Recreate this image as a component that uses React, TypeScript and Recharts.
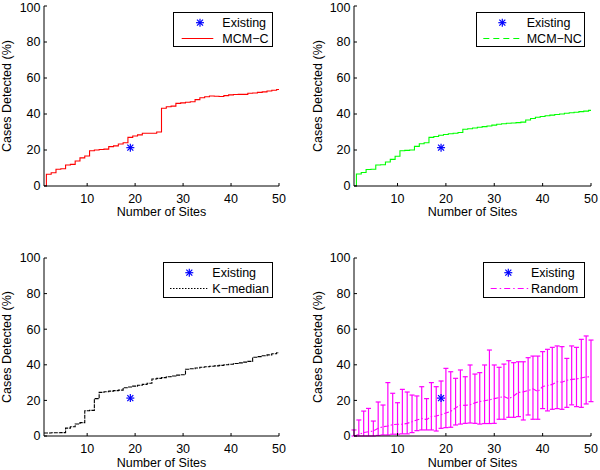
import React from 'react';
import { ComposedChart, Line, Scatter, XAxis, YAxis, ErrorBar, Legend } from 'recharts';

const sites = [1, 2, 3, 4, 5, 6, 7, 8, 9, 10, 11, 12, 13, 14, 15, 16, 17, 18, 19, 20, 21, 22, 23, 24, 25,
  26, 27, 28, 29, 30, 31, 32, 33, 34, 35, 36, 37, 38, 39, 40, 41, 42, 43, 44, 45, 46, 47, 48, 49, 50];

const xTicks = [10, 20, 30, 40, 50];
const yTicks = [0, 20, 40, 60, 80, 100];

const existing = [{ site: 19, pct: 21.3 }];

const mcmC = [0, 6.5, 7.4, 9.3, 9.6, 11.7, 12, 13.9, 15.6, 16.7,
  19.6, 20, 20.3, 20.5, 21.9, 22.3, 23.3, 24, 27, 27.8,
  28.4, 29.3, 29.3, 29.3, 30, 43.2, 44, 44.4, 45.9, 46.2,
  46.5, 46.8, 48, 49, 49.6, 50, 49.9, 49.7, 50.2, 50.6,
  50.8, 50.9, 50.9, 51.5, 51.7, 52, 52.3, 52.8, 53.2, 53.6];

const mcmNC = [0, 6.7, 7.5, 9.2, 9.3, 11.7, 11.8, 13.3, 14.8, 16.5,
  19.6, 19.8, 20, 22, 23.5, 24, 27, 27.5, 28.2, 28.6,
  29, 29.3, 29.7, 31.5, 31.8, 32.2, 32.6, 33, 33.3, 33.8,
  34.3, 34.6, 34.9, 35, 35.2, 35.5, 36.7, 37.5, 38.2, 38.6,
  39, 39.4, 39.7, 40, 40.4, 40.7, 41, 41.3, 41.6, 42];

const kMedian = [1.7, 1.7, 1.8, 1.8, 1.9, 4.4, 5.2, 6.7, 7.5, 14.2,
  14.4, 21, 24.5, 24.9, 25.2, 25.5, 25.8, 27.1, 27.5, 28,
  28.5, 29, 29.6, 32, 32.4, 32.8, 33.3, 33.7, 34.2, 34.4,
  37.5, 37.8, 38.2, 38.6, 38.9, 39.2, 39.4, 39.7, 40, 40.3,
  40.7, 41.1, 41.5, 41.9, 44.2, 44.6, 45.1, 45.6, 46.2, 46.8];

const randomMean = [0, 0.9, 1.9, 2.4, 2.8, 4.3, 5.2, 5.6, 6.4, 6.6,
  6.6, 7.1, 8, 9, 9.9, 9.2, 10.9, 11.2, 12, 12.9,
  13.9, 15.8, 17.4, 17.2, 17.6, 18.6, 19.4, 19.8, 20.3, 21,
  21.6, 22.2, 20.9, 22.5, 24.5, 24.8, 25.5, 26.5, 25, 27.8,
  28.3, 29, 30.5, 30.2, 31.3, 31.8, 32, 32.6, 33.2, 33.2];

const randomLow = [0, 0, 0, 0, 0, 0.3, 0.6, 0.6, 1, 1,
  1.2, 1.2, 1.9, 3, 3.4, 3.4, 3.4, 2.8, 4.3, 4.7,
  4.9, 6.2, 6.7, 7.1, 7.3, 7.1, 6.7, 7, 7, 7.1,
  9.4, 9.4, 10.5, 10.5, 10.9, 9, 11.8, 9.4, 9.4, 15.4,
  14.1, 15, 15.4, 15, 16.1, 17.5, 16.5, 16.1, 18, 19.3];

const randomHigh = [3.4, 9, 14, 15.5, 8.4, 19.1, 17.4, 30, 24, 18.7,
  26.2, 24.7, 23, 22.5, 27.7, 21, 30, 27.7, 30.9, 38,
  36.1, 32.4, 37.1, 33.3, 39.9, 34.8, 35.6, 39.9, 48.3, 39.9,
  38.6, 40.4, 42.3, 41.2, 41.7, 41.7, 44, 44.9, 44.9, 47.4,
  48.7, 49.8, 50.6, 50.2, 43.6, 50.6, 49.8, 54.3, 56.2, 53.9];

const toRows = (vals: number[]) => sites.map((s, i) => ({ site: s, pct: vals[i] }));
const randomRows = sites.map((s, i) => ({
  site: s,
  pct: randomMean[i],
  err: [randomMean[i] - randomLow[i], randomHigh[i] - randomMean[i]],
}));

const Asterisk = ({ cx, cy }: { cx: number; cy: number }) => (
  <g stroke="#0000ff" strokeWidth={1.2}>
    <line x1={cx - 4} y1={cy} x2={cx + 4} y2={cy} />
    <line x1={cx} y1={cy - 4} x2={cx} y2={cy + 4} />
    <line x1={cx - 3} y1={cy - 3} x2={cx + 3} y2={cy + 3} />
    <line x1={cx - 3} y1={cy + 3} x2={cx + 3} y2={cy - 3} />
  </g>
);

type Box = { x: number; y: number; w: number; h: number; starX: number; lx1: number; lx2: number; textX: number };

function LegendBox({ box, color, dash, name }: { box: Box; color: string; dash?: string; name: string }) {
  const r1 = 10.7;
  const r2 = 26.5;
  return (
    <svg width={box.w} height={box.h} style={{ display: 'block' }}>
      <rect x={0.5} y={0.5} width={box.w - 1} height={box.h - 1} fill="#fff" stroke="#000" />
      <Asterisk cx={box.starX} cy={r1} />
      <text x={box.textX} y={r1} dy="0.35em" fontSize={12.5} fill="#000">Existing</text>
      <line x1={box.lx1} x2={box.lx2} y1={r2} y2={r2} stroke={color} strokeDasharray={dash} />
      <text x={box.textX} y={r2} dy="0.35em" fontSize={12.5} fill="#000">{name}</text>
    </svg>
  );
}

type PanelProps = {
  left: number;
  top: number;
  rows: any[];
  color: string;
  lineDash?: string;
  legendDash?: string;
  name: string;
  yAxisWidth: number;
  right: number;
  marginTop: number;
  xAxisHeight: number;
  xLabelOffset: number;
  yLabelOffset: number;
  box: Box;
  lineType: 'step' | 'linear';
  errors?: boolean;
};

function Panel(p: PanelProps) {
  return (
    <div style={{ position: 'absolute', left: p.left, top: p.top }}>
      <ComposedChart width={300} height={235} data={p.rows}
        margin={{ top: p.marginTop, right: p.right, bottom: 0, left: 0 }}>
        <XAxis type="number" dataKey="site" domain={[1, 50]} ticks={xTicks} allowDataOverflow
          height={p.xAxisHeight} tickSize={-3} tickMargin={11.5}
          axisLine={{ stroke: '#000' }} tickLine={{ stroke: '#000' }}
          tick={{ fill: '#000', fontSize: 12.5 }}
          label={{ value: 'Number of Sites', position: 'insideBottom', offset: p.xLabelOffset, fill: '#000', fontSize: 12.5 }} />
        <YAxis type="number" domain={[0, 100]} ticks={yTicks} allowDataOverflow
          width={p.yAxisWidth} tickSize={-3} tickMargin={6.5}
          axisLine={{ stroke: '#000' }} tickLine={{ stroke: '#000' }}
          tick={{ fill: '#000', fontSize: 12.5 }}
          label={{ value: 'Cases Detected (%)', angle: -90, position: 'insideLeft', offset: p.yLabelOffset,
            fill: '#000', fontSize: 12.5, style: { textAnchor: 'middle' } }} />
        <Line type={p.lineType} dataKey="pct" stroke={p.color} strokeWidth={1.1} strokeDasharray={p.lineDash}
          dot={false} activeDot={false} isAnimationActive={false}>
          {p.errors && <ErrorBar dataKey="err" width={2.5} stroke="#ff00ff" strokeWidth={1.2} direction="y" />}
        </Line>
        <Scatter data={existing} dataKey="pct" isAnimationActive={false}
          shape={(s: any) => <Asterisk cx={s.cx} cy={s.cy} />} />
        <Legend layout="vertical" align="center" verticalAlign="middle"
          wrapperStyle={{ left: p.box.x - p.left, top: p.box.y - p.top, width: p.box.w, height: p.box.h }}
          content={() => <LegendBox box={p.box} color={p.color} dash={p.legendDash} name={p.name} />} />
      </ComposedChart>
    </div>
  );
}

export default function App() {
  return (
    <div style={{ position: 'absolute', left: 0, top: 0, width: 600, height: 470, background: '#fff',
      fontFamily: '"Liberation Sans", Arial, sans-serif' }}>
      <Panel left={0} top={0} rows={toRows(mcmC)} color="#ff0000" name="MCM−C"
        yAxisWidth={44} right={21} marginTop={6} xAxisHeight={49} xLabelOffset={19} yLabelOffset={7}
        lineType="step"
        box={{ x: 173, y: 12, w: 100, h: 35, starX: 27, lx1: 8.7, lx2: 40.3, textX: 49.3 }} />
      <Panel left={300} top={0} rows={toRows(mcmNC)} color="#00ff00" name="MCM−NC" legendDash="6 4"
        yAxisWidth={54} right={9} marginTop={6} xAxisHeight={49} xLabelOffset={19} yLabelOffset={18}
        lineType="step"
        box={{ x: 476, y: 12, w: 109, h: 35, starX: 26.3, lx1: 7.3, lx2: 44.7, textX: 50.7 }} />
      <Panel left={0} top={235} rows={toRows(kMedian)} color="#000000" name="K−median" lineDash="4 1" legendDash="1.5 1.5"
        yAxisWidth={44} right={21} marginTop={23} xAxisHeight={34} xLabelOffset={3} yLabelOffset={7}
        lineType="step"
        box={{ x: 163, y: 262, w: 110, h: 36, starX: 26.3, lx1: 7, lx2: 44.3, textX: 49.3 }} />
      <Panel left={300} top={235} rows={randomRows} color="#ff00ff" name="Random" lineDash="5 2 1.5 2" legendDash="6 3 1.5 3"
        yAxisWidth={54} right={9} marginTop={23} xAxisHeight={34} xLabelOffset={3} yLabelOffset={18}
        lineType="linear" errors
        box={{ x: 483, y: 262, w: 102, h: 36, starX: 25.3, lx1: 7.7, lx2: 45.3, textX: 48 }} />
    </div>
  );
}
